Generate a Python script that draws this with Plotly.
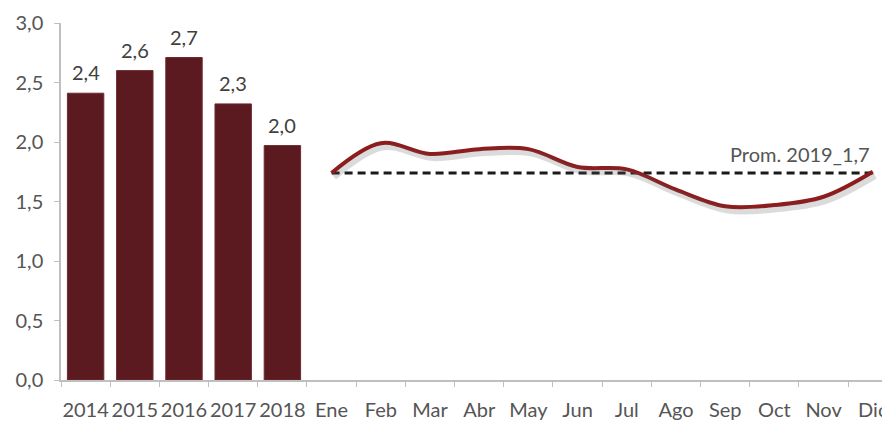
import plotly.graph_objects as go

years = ["2014", "2015", "2016", "2017", "2018"]
year_values = [2.4, 2.6, 2.7, 2.3, 2.0]
year_bar_heights = [2.41, 2.60, 2.71, 2.32, 1.97]
months = ["Ene", "Feb", "Mar", "Abr", "May", "Jun", "Jul", "Ago", "Sep", "Oct", "Nov", "Dic"]
month_values = [1.74, 1.99, 1.90, 1.94, 1.94, 1.79, 1.77, 1.60, 1.46, 1.47, 1.54, 1.75]
avg_value = 1.74
avg_label = "Prom. 2019_1,7"
y_ticks = [0, 0.5, 1.0, 1.5, 2.0, 2.5, 3.0]

categories = years + months
FONT = "Lato"
GREY = "#555555"

fig = go.Figure()

fig.add_trace(go.Bar(
    x=years, y=year_bar_heights,
    marker=dict(color="#5a1a1f", line=dict(color="#6e2a2e", width=1)),
    width=0.74, showlegend=False,
))

for yr, h, v in zip(years, year_bar_heights, year_values):
    fig.add_annotation(
        x=categories.index(yr), y=h, text=f"{v:.1f}".replace(".", ","), showarrow=False,
        yanchor="bottom", yshift=7,
        font=dict(family=FONT, size=20, color="#404040"),
    )

# shadow of the monthly line
fig.add_trace(go.Scatter(
    x=months, y=month_values, mode="lines",
    line=dict(color="rgba(90,90,90,0.22)", width=6, shape="spline", smoothing=1.0),
    xaxis="x2", yaxis="y2", showlegend=False, hoverinfo="skip",
))

fig.add_trace(go.Scatter(
    x=[months[0], months[-1]], y=[avg_value, avg_value], mode="lines",
    line=dict(color="#1a1a1a", width=3, dash="8px,5px"),
    showlegend=False,
))

fig.add_trace(go.Scatter(
    x=months, y=month_values, mode="lines",
    line=dict(color="#8c1c1e", width=4, shape="spline", smoothing=1.0),
    showlegend=False,
))

fig.add_annotation(
    x=categories.index(months[-1]), y=avg_value, text=avg_label, showarrow=False,
    xanchor="right", yanchor="bottom", yshift=5, xshift=-1,
    font=dict(family=FONT, size=20, color=GREY),
)

xr = [-0.5, 16.35]
fig.update_layout(
    width=882, height=413,
    margin=dict(l=53, r=0, t=15, b=41, autoexpand=False),
    paper_bgcolor="white", plot_bgcolor="white",
    separators=",.",
    xaxis=dict(
        type="category", categoryorder="array", categoryarray=categories,
        range=xr, showgrid=False, showline=True, linecolor="#bfbfbf", linewidth=1.5,
        ticks="outside", ticklen=5, tickcolor="#bfbfbf", tickson="boundaries",
        tickangle=0, automargin=False,
        tickfont=dict(family=FONT, size=20, color=GREY), ticklabelstandoff=11,
        zeroline=False,
    ),
    yaxis=dict(
        range=[0, 3.0], tickvals=y_ticks, tickformat=".1f",
        showgrid=False, showline=True, linecolor="#bfbfbf", linewidth=1.5,
        ticks="outside", ticklen=5, tickcolor="#bfbfbf", automargin=False,
        tickfont=dict(family=FONT, size=20, color=GREY), ticklabelstandoff=7,
        zeroline=False,
    ),
    xaxis2=dict(
        type="category", categoryorder="array", categoryarray=categories,
        range=[xr[0] - 0.05, xr[1] - 0.05], overlaying="x", visible=False,
    ),
    yaxis2=dict(range=[0.035, 3.035], overlaying="y", visible=False),
)

fig.write_html("out.html")
